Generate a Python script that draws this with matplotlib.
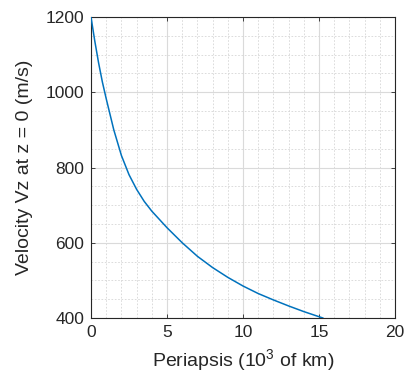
import numpy as np
import matplotlib
matplotlib.use("Agg")
import matplotlib.pyplot as plt
from matplotlib.ticker import MultipleLocator

# values
periapsis = [0, 0.25, 0.5, 0.75, 1.0, 1.5, 2.0, 2.5, 3.0, 3.5, 4.0, 5.0, 6.0,
             7.0, 8.0, 9.0, 10.0, 11.0, 12.0, 13.0, 14.0, 15.25]
velocity = [1200, 1136, 1078, 1027, 983, 900, 832, 781, 742, 710, 684, 640, 600,
            564, 534, 508, 485, 465, 448, 432, 417, 400]
x_ticks = [0, 5, 10, 15, 20]
y_ticks = [400, 600, 800, 1000, 1200]

LINE_BLUE = "#0072BD"
AXIS_COLOR = "#262626"

plt.rcParams['font.family'] = ['Liberation Sans', 'DejaVu Sans']
plt.rcParams['mathtext.default'] = 'regular'

fig = plt.figure(figsize=(4.05, 3.79), dpi=100, facecolor="white")
ax = fig.add_axes([0.2247, 0.161, 0.7506, 0.794])

ax.plot(periapsis, velocity, color=LINE_BLUE, linewidth=1.1, zorder=3)

ax.set_xlim(0, 20)
ax.set_ylim(400, 1200)
ax.set_xticks(x_ticks)
ax.set_yticks(y_ticks)
ax.xaxis.set_minor_locator(MultipleLocator(1))
ax.yaxis.set_minor_locator(MultipleLocator(50))

ax.grid(True, which='major', color="#dadada", linewidth=0.8, linestyle='-')
ax.grid(True, which='minor', color="#d6d6d6", linewidth=0.6, linestyle=(0, (2, 2)))
ax.set_axisbelow(True)

ax.tick_params(which='major', direction='in', top=True, right=True,
               length=3, width=0.6, colors=AXIS_COLOR, labelsize=12.5, pad=5)
ax.tick_params(which='minor', length=0)
for spine in ax.spines.values():
    spine.set_edgecolor(AXIS_COLOR)
    spine.set_linewidth(0.8)

ax.set_xlabel("Periapsis (10$^3$ of km)", fontsize=14, color=AXIS_COLOR, labelpad=5)
ax.set_ylabel("Velocity Vz at z = 0 (m/s)", fontsize=14, color=AXIS_COLOR, labelpad=9)

fig.savefig("out.png", dpi=100, facecolor="white")
